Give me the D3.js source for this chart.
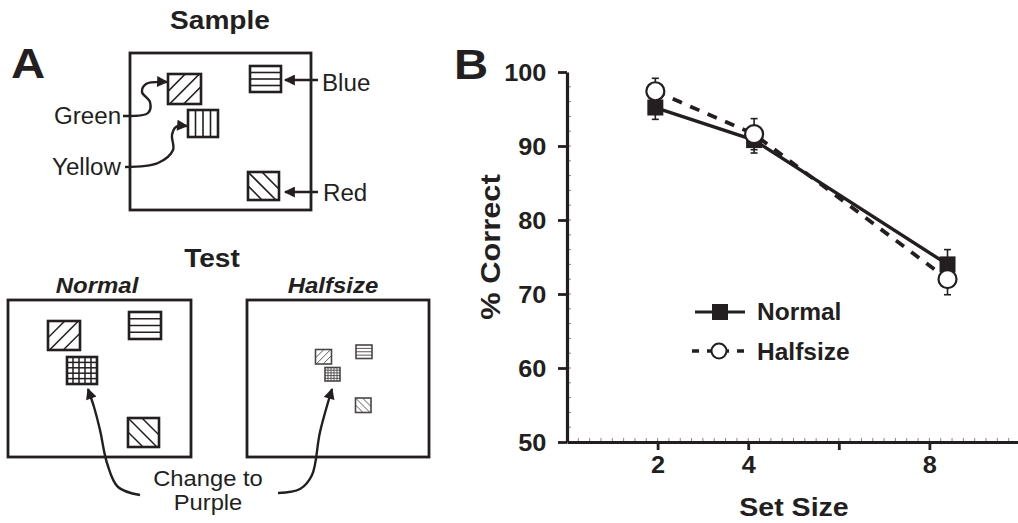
<!DOCTYPE html>
<html>
<head>
<meta charset="utf-8">
<script src="https://cdn.jsdelivr.net/npm/d3@7"></script>
<style>
    body { margin: 0; background: #fff; }
    svg { display: block; font-family: "Liberation Sans", Arial, Helvetica, sans-serif; }
</style>
</head>
<body>
<svg id="fig" width="1018" height="523"></svg>
<script>
// ---- data (panel B) ----
const setSizes = [2, 4, 8];
const plotPos = [1.95, 4.13, 8.4]; // where the points sit on the x axis
const normalPct = [95.2, 90.8, 74.0];
const normalErr = [1.6, 1.75, 2.0];
const halfPct = [97.4, 91.6, 72.0];
const halfErr = [1.75, 2.1, 2.1];
const yTicks = [50, 60, 70, 80, 90, 100];
const xTicks = [2, 4, 6, 8, 10];
const xTickLabels = [2, 4, 8];
const seriesNames = ["Normal", "Halfsize"];

// ---- schematic items (panel A) ----
const colorNames = ["Green", "Yellow", "Blue", "Red"];
const hatchKinds = { Green: "up", Yellow: "vert", Blue: "horiz", Red: "down", Purple: "grid" };

const INK = "#231f20";
const svg = d3.select("#fig");

function label(g, x, y, str, size, opts = {}) {
    let sx = opts.stretch || 1;
    let t = g.append("text")
        .attr("transform", `translate(${x},${y})${opts.rotate ? " rotate(" + opts.rotate + ")" : ""} scale(${sx},1)`)
        .attr("font-size", size)
        .attr("font-weight", opts.weight || "normal")
        .attr("font-style", opts.italic ? "italic" : "normal")
        .attr("text-anchor", opts.anchor || "start")
        .attr("fill", INK)
        .text(str);
    return t;
}

// arrowhead
let defs = svg.append("defs");
defs.append("marker")
    .attr("id", "arrowhead")
    .attr("viewBox", "0 0 10 10")
    .attr("refX", 9)
    .attr("refY", 5)
    .attr("markerUnits", "userSpaceOnUse")
    .attr("markerWidth", 13)
    .attr("markerHeight", 11)
    .attr("orient", "auto")
    .append("path")
    .attr("d", "M0,0 L10,5 L0,10 z")
    .attr("fill", INK);

let clipCount = 0;
function hatchSquare(g, x, y, w, h, kind, lw, innerLw, color) {
    let ink = color || INK;
    let id = "clip" + clipCount++;
    defs.append("clipPath").attr("id", id)
        .append("rect").attr("x", x).attr("y", y).attr("width", w).attr("height", h);
    let lines = [];
    if (kind === "up") {
        [0.55, 1.0, 1.45].forEach(k => {
            let c = k * (w + h) / 2;
            lines.push([x + c - h, y + h, x + c, y]);
        });
    } else if (kind === "down") {
        [-0.45, 0, 0.45].forEach(k => {
            let c = k * w;
            lines.push([x + c, y, x + c + h, y + h]);
        });
    } else if (kind === "vert") {
        [1, 2, 3].forEach(k => lines.push([x + w * k / 4, y, x + w * k / 4, y + h]));
    } else if (kind === "horiz") {
        [1, 2, 3].forEach(k => lines.push([x, y + h * k / 4, x + w, y + h * k / 4]));
    } else if (kind === "grid") {
        [1, 2, 3, 4].forEach(k => {
            lines.push([x + w * k / 5, y, x + w * k / 5, y + h]);
            lines.push([x, y + h * k / 5, x + w, y + h * k / 5]);
        });
    }
    g.append("g").attr("clip-path", `url(#${id})`)
        .selectAll("line").data(lines).join("line")
        .attr("x1", d => d[0]).attr("y1", d => d[1])
        .attr("x2", d => d[2]).attr("y2", d => d[3])
        .attr("stroke", ink).attr("stroke-width", innerLw);
    g.append("rect")
        .attr("x", x).attr("y", y).attr("width", w).attr("height", h)
        .attr("fill", "none").attr("stroke", ink).attr("stroke-width", lw);
}

function frame(g, x, y, w, h) {
    g.append("rect").attr("x", x).attr("y", y).attr("width", w).attr("height", h)
        .attr("fill", "none").attr("stroke", INK).attr("stroke-width", 2.8);
}

const curvy = d3.line().curve(d3.curveCatmullRom.alpha(0.5));
function arrow(g, pts) {
    g.append("path")
        .attr("d", curvy(pts))
        .attr("fill", "none")
        .attr("stroke", INK)
        .attr("stroke-width", 2.4)
        .attr("marker-end", "url(#arrowhead)");
}

// ================= Panel A =================
let A = svg.append("g");
label(A, 11, 78, "A", 43, { weight: "bold", stretch: 1.1 });
label(A, 220, 29, "Sample", 26, { weight: "bold", anchor: "middle", stretch: 1.08 });

// item layout relative to a display box (x, y, w, h)
const sampleLayout = {
    Green: [38, 21, 33, 30],
    Yellow: [58, 57, 30, 27],
    Blue: [120, 13, 31, 26],
    Red: [118, 119, 31, 28]
};
const testLayout = {
    Green: [40, 21, 32, 29],
    Purple: [59, 57, 30, 27],
    Blue: [121, 12, 32, 27],
    Red: [120, 118, 31, 29]
};

let sampleBox = [130, 53, 181, 157];
frame(A, ...sampleBox);
colorNames.forEach(c => {
    let r = sampleLayout[c];
    hatchSquare(A, sampleBox[0] + r[0], sampleBox[1] + r[1], r[2], r[3], hatchKinds[c], 2.6, 1.6);
});

label(A, 54, 124, "Green", 23, { stretch: 1.05 });
label(A, 52, 175, "Yellow", 23, { stretch: 1.05 });
label(A, 322, 91, "Blue", 23, { stretch: 1.05 });
label(A, 323, 201, "Red", 23, { stretch: 1.05 });

arrow(A, [[123, 116], [148, 113], [150, 102], [142, 92], [146, 84], [167, 82]]);
arrow(A, [[125, 167], [158, 163], [173, 150], [172, 135], [176, 127], [187, 126]]);
arrow(A, [[318, 80], [285, 80]]);
arrow(A, [[318, 192], [285, 192]]);

// test displays
label(A, 212, 267, "Test", 26, { weight: "bold", anchor: "middle", stretch: 1.08 });
label(A, 97, 293, "Normal", 22, { weight: "bold", italic: true, anchor: "middle", stretch: 1.09 });
label(A, 333, 293, "Halfsize", 22, { weight: "bold", italic: true, anchor: "middle", stretch: 1.09 });

let normalBox = [8, 300, 183, 157];
let halfBox = [247, 300, 182, 157];
frame(A, ...normalBox);
frame(A, ...halfBox);

Object.keys(testLayout).forEach(c => {
    let r = testLayout[c];
    hatchSquare(A, normalBox[0] + r[0], normalBox[1] + r[1], r[2], r[3], hatchKinds[c], 2.6, 1.5);
});

// halfsize display: same layout shrunk by half around the display centre
const shrinkX = d3.scaleLinear().domain([97, 98]).range([97, 97.5]);
const shrinkY = d3.scaleLinear().domain([78, 79]).range([78, 78.5]);
Object.keys(testLayout).forEach(c => {
    let r = testLayout[c];
    let cx = shrinkX(r[0] + r[2] / 2), cy = shrinkY(r[1] + r[3] / 2);
    let w = r[2] / 2, h = r[3] / 2;
    hatchSquare(A, halfBox[0] + cx - w / 2, halfBox[1] + cy - h / 2, w, h, hatchKinds[c], 1.6, 0.9, "#4a4546");
});

label(A, 208, 486, "Change to", 22, { anchor: "middle", stretch: 1.08 });
label(A, 208, 510, "Purple", 22, { anchor: "middle", stretch: 1.08 });
arrow(A, [[140, 495], [118, 487], [107, 463], [100, 430], [94, 407], [88, 389]]);
arrow(A, [[278, 493], [300, 489], [312, 475], [320, 432], [332, 389]]);

// ================= Panel B =================
let B = svg.append("g");
label(B, 454, 79, "B", 43, { weight: "bold", stretch: 1.1 });

const x = d3.scaleLinear().domain([0, 10]).range([567, 1020]);
const y = d3.scaleLinear().domain([50, 100]).range([442, 72]);

// minor ticks
B.append("g").selectAll("line").data(d3.range(52, 100, 2)).join("line")
    .attr("x1", x(0)).attr("x2", x(0) + 4)
    .attr("y1", d => y(d)).attr("y2", d => y(d))
    .attr("stroke", "#888").attr("stroke-width", 1);
B.append("g").selectAll("line").data(d3.range(0.25, 10, 0.25)).join("line")
    .attr("x1", d => x(d)).attr("x2", d => x(d))
    .attr("y1", y(50)).attr("y2", y(50) - 4)
    .attr("stroke", "#888").attr("stroke-width", 1);

let yAxis = B.append("g")
    .attr("transform", `translate(${x(0)},0)`)
    .call(d3.axisLeft(y).tickValues(yTicks).tickSize(9).tickSizeOuter(0).tickPadding(8));
let xAxis = B.append("g")
    .attr("transform", `translate(0,${y(50)})`)
    .call(d3.axisBottom(x).tickValues(xTicks).tickSize(8).tickSizeOuter(0).tickPadding(7)
        .tickFormat(d => xTickLabels.includes(d) ? d : ""));

[yAxis, xAxis].forEach(ax => {
    ax.select(".domain").attr("stroke", INK).attr("stroke-width", 3.2);
    ax.selectAll(".tick line").attr("stroke", INK).attr("stroke-width", 2.8);
    ax.selectAll(".tick text")
        .attr("fill", INK)
        .attr("font-size", 23)
        .attr("font-weight", "bold")
        .attr("font-family", '"Liberation Sans", Arial, sans-serif');
});
yAxis.selectAll(".tick text").attr("transform", "translate(-2,0) scale(1.1,1)");
yAxis.selectAll(".tick text").attr("dy", "0.36em");
xAxis.selectAll(".tick text").attr("transform", "scale(1.1,1)").attr("x", 0);

label(B, 500, 247, "% Correct", 28, { weight: "bold", anchor: "middle", rotate: -90, stretch: 1.1 });
label(B, 794, 516, "Set Size", 25.5, { weight: "bold", anchor: "middle", stretch: 1.12 });

// series
const line = d3.line()
    .x((d, i) => x(plotPos[i]))
    .y(d => y(d));

B.append("path")
    .attr("d", line(normalPct))
    .attr("fill", "none")
    .attr("stroke", INK)
    .attr("stroke-width", 3.4);
B.append("path")
    .attr("d", line(halfPct))
    .attr("fill", "none")
    .attr("stroke", INK)
    .attr("stroke-width", 3.8)
    .attr("stroke-dasharray", "10,9");

function errorBars(vals, errs) {
    let g = B.append("g").attr("stroke", INK).attr("stroke-width", 1.6);
    vals.forEach((v, i) => {
        let cx = x(plotPos[i]);
        g.append("line").attr("x1", cx).attr("x2", cx).attr("y1", y(v - errs[i])).attr("y2", y(v + errs[i]));
        [v - errs[i], v + errs[i]].forEach(e => {
            g.append("line").attr("x1", cx - 3.5).attr("x2", cx + 3.5).attr("y1", y(e)).attr("y2", y(e));
        });
    });
}
errorBars(normalPct, normalErr);
errorBars(halfPct, halfErr);

B.append("g").selectAll("rect").data(normalPct).join("rect")
    .attr("x", (d, i) => x(plotPos[i]) - 8)
    .attr("y", d => y(d) - 8)
    .attr("width", 16).attr("height", 16)
    .attr("fill", INK);
B.append("g").selectAll("circle").data(halfPct).join("circle")
    .attr("cx", (d, i) => x(plotPos[i]))
    .attr("cy", d => y(d))
    .attr("r", 9)
    .attr("fill", "#fff")
    .attr("stroke", INK)
    .attr("stroke-width", 2.2);

// legend
let leg = B.append("g");
leg.append("line").attr("x1", 695).attr("x2", 745).attr("y1", 312).attr("y2", 312)
    .attr("stroke", INK).attr("stroke-width", 3);
leg.append("rect").attr("x", 712).attr("y", 304).attr("width", 16).attr("height", 16).attr("fill", INK);
leg.append("line").attr("x1", 692).attr("x2", 746).attr("y1", 351).attr("y2", 351)
    .attr("stroke", INK).attr("stroke-width", 3.4).attr("stroke-dasharray", "7,8");
leg.append("circle").attr("cx", 719).attr("cy", 351).attr("r", 7.5)
    .attr("fill", "#fff").attr("stroke", INK).attr("stroke-width", 2);
label(leg, 757, 320, seriesNames[0], 24.5, { weight: "bold" });
label(leg, 757, 360, seriesNames[1], 24.5, { weight: "bold" });
</script>
</body>
</html>
